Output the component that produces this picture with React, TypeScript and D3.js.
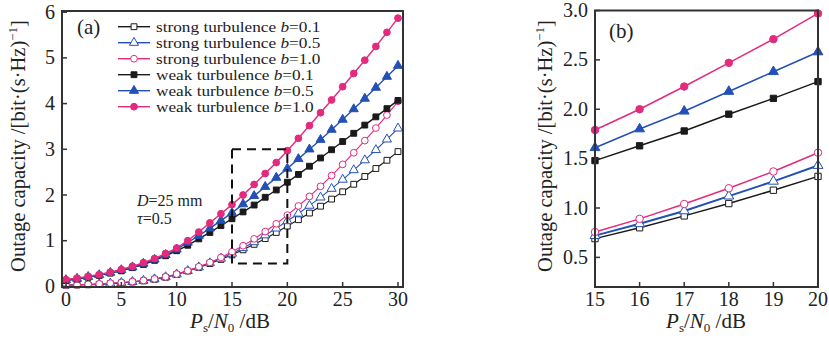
import React from "react";
import * as d3 from "d3";

const snr: number[] = d3.range(0, 31);
const snrZoom: number[] = [15, 16, 17, 18, 19, 20];

const strong01: number[] = [0.025, 0.03, 0.035, 0.045, 0.06, 0.075, 0.095, 0.12, 0.155, 0.2, 0.26, 0.335, 0.415, 0.5, 0.59, 0.69, 0.8, 0.92, 1.045, 1.18, 1.32, 1.46, 1.605, 1.755, 1.91, 2.07, 2.235, 2.405, 2.58, 2.76, 2.95];
const strong05: number[] = [0.03, 0.035, 0.04, 0.05, 0.065, 0.08, 0.1, 0.125, 0.16, 0.205, 0.265, 0.34, 0.42, 0.51, 0.61, 0.72, 0.84, 0.97, 1.12, 1.27, 1.43, 1.595, 1.768, 1.948, 2.138, 2.338, 2.546, 2.762, 2.986, 3.218, 3.458];
const strong10: number[] = [0.03, 0.035, 0.045, 0.055, 0.07, 0.085, 0.105, 0.13, 0.165, 0.21, 0.27, 0.345, 0.43, 0.525, 0.635, 0.757, 0.89, 1.04, 1.2, 1.37, 1.56, 1.76, 1.97, 2.19, 2.425, 2.67, 2.925, 3.19, 3.465, 3.75, 4.05];
const weak01: number[] = [0.13, 0.16, 0.2, 0.24, 0.29, 0.34, 0.41, 0.48, 0.57, 0.67, 0.78, 0.9, 1.04, 1.18, 1.33, 1.48, 1.63, 1.78, 1.95, 2.11, 2.28, 2.45, 2.63, 2.81, 2.99, 3.17, 3.35, 3.53, 3.71, 3.89, 4.07];
const weak05: number[] = [0.14, 0.17, 0.21, 0.25, 0.3, 0.36, 0.42, 0.5, 0.59, 0.69, 0.81, 0.96, 1.11, 1.27, 1.44, 1.61, 1.8, 1.98, 2.18, 2.38, 2.58, 2.79, 3.0, 3.21, 3.43, 3.65, 3.88, 4.11, 4.35, 4.59, 4.83];
const weak10: number[] = [0.15, 0.18, 0.22, 0.26, 0.31, 0.37, 0.44, 0.52, 0.61, 0.72, 0.84, 1.0, 1.19, 1.39, 1.59, 1.79, 2.0, 2.23, 2.47, 2.71, 2.97, 3.24, 3.52, 3.8, 4.08, 4.37, 4.66, 4.95, 5.25, 5.56, 5.87];

const zStrong01: number[] = [0.69, 0.8, 0.92, 1.045, 1.18, 1.32];
const zStrong05: number[] = [0.72, 0.84, 0.97, 1.12, 1.27, 1.43];
const zStrong10: number[] = [0.757, 0.89, 1.04, 1.2, 1.37, 1.56];
const zWeak01: number[] = [1.48, 1.63, 1.78, 1.95, 2.11, 2.28];
const zWeak05: number[] = [1.61, 1.8, 1.98, 2.18, 2.38, 2.58];
const zWeak10: number[] = [1.79, 2.0, 2.23, 2.47, 2.71, 2.97];

const legendLabels: string[] = ["strong turbulence ", "strong turbulence ", "strong turbulence ", "weak turbulence ", "weak turbulence ", "weak turbulence "];
const legendB: string[] = ["0.1", "0.5", "1.0", "0.1", "0.5", "1.0"];

const leftXTicks: number[] = [0, 5, 10, 15, 20, 25, 30];
const leftYTicks: number[] = [0, 1, 2, 3, 4, 5, 6];
const rightXTicks: number[] = [15, 16, 17, 18, 19, 20];
const rightYTicks: number[] = [0.5, 1.0, 1.5, 2.0, 2.5, 3.0];

const BLACK = "#1a1a1a";
const BLUE = "#2350b5";
const PINK = "#e42a7c";

type Style = { color: string; shape: "square" | "triangle" | "circle"; filled: boolean; lw: number };
const styles: Style[] = [
  { color: BLACK, shape: "square", filled: false, lw: 1.1 },
  { color: BLUE, shape: "triangle", filled: false, lw: 1.1 },
  { color: PINK, shape: "circle", filled: false, lw: 1.1 },
  { color: BLACK, shape: "square", filled: true, lw: 1.4 },
  { color: BLUE, shape: "triangle", filled: true, lw: 1.4 },
  { color: PINK, shape: "circle", filled: true, lw: 1.4 },
];

const FONT = "'Liberation Serif', 'Times New Roman', serif";

function symPath(shape: string, size: number): string {
  const t = shape === "square" ? d3.symbolSquare : shape === "triangle" ? d3.symbolTriangle : d3.symbolCircle;
  return d3.symbol().type(t).size(size)() as string;
}

function Marker({ x, y, s, big }: { x: number; y: number; s: Style; big?: boolean }) {
  const size = s.shape === "square" ? (big ? 40 : 34) : s.shape === "triangle" ? (big ? 42 : 36) : big ? 44 : 36;
  return (
    <path
      d={symPath(s.shape, size)}
      transform={`translate(${x},${y})`}
      fill={s.filled ? s.color : "#fff"}
      stroke={s.color}
      strokeWidth={1}
    />
  );
}

function Series({ xs, ys, s, xScale, yScale, big, lw }: any) {
  const line = d3.line<number>().x((_, i) => xScale(xs[i])).y((d) => yScale(d));
  return (
    <g>
      <path d={line(ys) as string} fill="none" stroke={s.color} strokeWidth={lw ?? s.lw} />
      {ys.map((v: number, i: number) => (
        <Marker key={i} x={xScale(xs[i])} y={yScale(v)} s={s} big={big} />
      ))}
    </g>
  );
}

function YTitle({ x, y }: { x: number; y: number }) {
  return (
    <text transform={`translate(${x},${y}) rotate(-90)`} textAnchor="middle" fontFamily={FONT} fontSize={20.5} fill="#222">
      Outage capacity /[bit·(s·Hz)
      <tspan dy={-8} fontSize={13}>−1</tspan>
      <tspan dy={8}>]</tspan>
    </text>
  );
}

function XTitle({ x, y }: { x: number; y: number }) {
  return (
    <text x={x} y={y} textAnchor="middle" fontFamily={FONT} fontSize={21} fill="#222">
      <tspan fontStyle="italic">P</tspan>
      <tspan dy={4} fontSize={13}>s</tspan>
      <tspan dy={-4}>/</tspan>
      <tspan fontStyle="italic">N</tspan>
      <tspan dy={4} fontSize={13}>0</tspan>
      <tspan dy={-4}> /dB</tspan>
    </text>
  );
}

export default function App() {
  const L = { x0: 62, x1: 403, y0: 11, y1: 287 };
  const lx = d3.scaleLinear().domain([0, 30]).range([66, 398]);
  const ly = d3.scaleLinear().domain([0, 6]).range([286.4, 12.2]);
  const R = { x0: 595, x1: 818, y0: 10.5, y1: 287 };
  const rx = d3.scaleLinear().domain([15, 20]).range([R.x0, R.x1]);
  const ry = d3.scaleLinear().domain([0.2, 3.0]).range([R.y1, R.y0]);

  const leftData = [strong01, strong05, strong10, weak01, weak05, weak10];
  const rightData = [zStrong01, zStrong05, zStrong10, zWeak01, zWeak05, zWeak10];

  return (
    <svg width={829} height={339} style={{ position: "absolute", left: 0, top: 0, background: "#fff" }}>
      <rect width={829} height={339} fill="#fff" />
      {leftData.map((ys, k) => (
        <Series key={k} xs={snr} ys={ys} s={styles[k]} xScale={lx} yScale={ly} />
      ))}
      <rect
        x={lx(15)}
        y={ly(3)}
        width={lx(20) - lx(15)}
        height={ly(0.5) - ly(3)}
        fill="none"
        stroke="#111"
        strokeWidth={2}
        strokeDasharray="9,6"
      />
      <rect x={L.x0} y={L.y0} width={L.x1 - L.x0} height={L.y1 - L.y0} fill="none" stroke="#333" strokeWidth={2} />
      {leftXTicks.map((t) => (
        <g key={t}>
          <line x1={lx(t)} x2={lx(t)} y1={L.y1} y2={L.y1 - 5} stroke="#333" strokeWidth={1.5} />
          <text x={lx(t)} y={L.y1 + 18.5} textAnchor="middle" fontFamily={FONT} fontSize={20} fill="#222">{t}</text>
        </g>
      ))}
      {leftYTicks.map((t) => (
        <g key={t}>
          <line x1={L.x0} x2={L.x0 + 5} y1={ly(t)} y2={ly(t)} stroke="#333" strokeWidth={1.5} />
          <text x={L.x0 - 7} y={ly(t) + 6.5} textAnchor="end" fontFamily={FONT} fontSize={20} fill="#222">{t}</text>
        </g>
      ))}
      <text x={77} y={34} fontFamily={FONT} fontSize={21} fill="#222">(a)</text>
      {styles.map((s, k) => {
        const y = 26.7 + k * 16;
        return (
          <g key={k}>
            <line x1={118} x2={150} y1={y} y2={y} stroke={s.color} strokeWidth={1.4} />
            <Marker x={134} y={y} s={s} />
            <text transform={`translate(156,${y + 5}) scale(1.19,1)`} fontFamily={FONT} fontSize={14.5} fill="#222">
              {legendLabels[k]}
              <tspan fontStyle="italic">b</tspan>={legendB[k]}
            </text>
          </g>
        );
      })}
      <text x={137} y={206} fontFamily={FONT} fontSize={16} fill="#222">
        <tspan fontStyle="italic">D</tspan>=25 mm
      </text>
      <text x={137} y={224} fontFamily={FONT} fontSize={16} fill="#222">
        <tspan fontStyle="italic">τ</tspan>=0.5
      </text>
      <YTitle x={25} y={146} />
      <XTitle x={230} y={328} />

      <defs>
        <clipPath id="rclip">
          <rect x={R.x0 - 6} y={R.y0 - 6} width={R.x1 - R.x0 + 12} height={R.y1 - R.y0 + 6} />
        </clipPath>
      </defs>
      <g clipPath="url(#rclip)">
        {rightData.map((ys, k) => (
          <Series key={k} xs={snrZoom} ys={ys} s={styles[k]} xScale={rx} yScale={ry} big lw={k === 1 ? 2 : 1.5} />
        ))}
      </g>
      <rect x={R.x0} y={R.y0} width={R.x1 - R.x0} height={R.y1 - R.y0} fill="none" stroke="#333" strokeWidth={2} />
      {rightXTicks.map((t) => (
        <g key={t}>
          <line x1={rx(t)} x2={rx(t)} y1={R.y1} y2={R.y1 - 5} stroke="#333" strokeWidth={1.5} />
          <text x={rx(t)} y={R.y1 + 18.5} textAnchor="middle" fontFamily={FONT} fontSize={20} fill="#222">{t}</text>
        </g>
      ))}
      {rightYTicks.map((t) => (
        <g key={t}>
          <line x1={R.x0} x2={R.x0 + 5} y1={ry(t)} y2={ry(t)} stroke="#333" strokeWidth={1.5} />
          <text x={R.x0 - 7} y={ry(t) + 6.5} textAnchor="end" fontFamily={FONT} fontSize={20} fill="#222">{t.toFixed(1)}</text>
        </g>
      ))}
      <text x={609} y={38} fontFamily={FONT} fontSize={21} fill="#222">(b)</text>
      <YTitle x={552} y={146} />
      <XTitle x={706} y={328} />
    </svg>
  );
}
